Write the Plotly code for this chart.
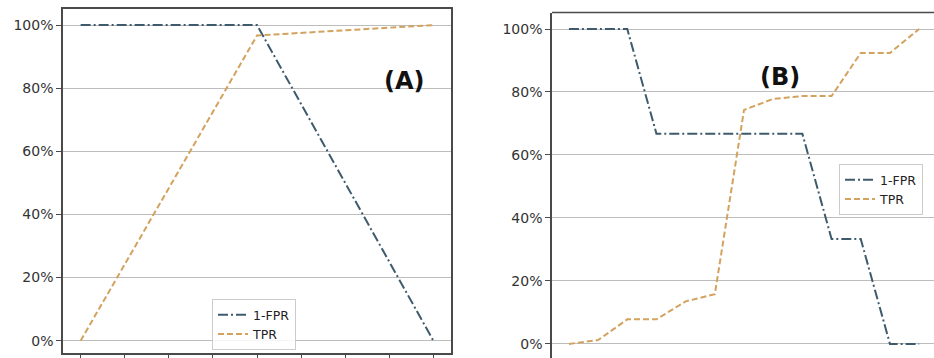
import plotly.graph_objects as go

# ---- data ----
a_x = [0, 4, 8]
a_one_minus_fpr = [100, 100, 0]
a_tpr = [0, 96.7, 100]

b_x = list(range(13))
b_one_minus_fpr = [100, 100, 100, 66.7, 66.7, 66.7, 66.7, 66.7, 66.7, 33.3, 33.3, 0, 0]
b_tpr = [0, 1.2, 7.8, 7.8, 13.5, 15.8, 74.3, 77.8, 78.7, 78.7, 92.4, 92.4, 100]

y_ticks = [0, 20, 40, 60, 80, 100]
y_tick_labels = ["0%", "20%", "40%", "60%", "80%", "100%"]
a_x_ticks = list(range(9))
series_names = ["1-FPR", "TPR"]
panel_labels = ["(A)", "(B)"]

W, H = 934, 358
C_FPR = "#3e5b6d"
C_TPR = "#d3a25e"
DASH_FPR = "10px,3px,2px,3px"
DASH_TPR = "6px,3px"
FONT = "DejaVu Sans"

fig = go.Figure()
fig.add_trace(go.Scatter(x=a_x, y=a_one_minus_fpr, mode="lines", name=series_names[0],
                         line=dict(color=C_FPR, width=2, dash=DASH_FPR),
                         xaxis="x", yaxis="y", legend="legend"))
fig.add_trace(go.Scatter(x=a_x, y=a_tpr, mode="lines", name=series_names[1],
                         line=dict(color=C_TPR, width=2, dash=DASH_TPR),
                         xaxis="x", yaxis="y", legend="legend"))
fig.add_trace(go.Scatter(x=b_x, y=b_one_minus_fpr, mode="lines", name=series_names[0],
                         line=dict(color=C_FPR, width=2, dash=DASH_FPR),
                         xaxis="x2", yaxis="y2", legend="legend2"))
fig.add_trace(go.Scatter(x=b_x, y=b_tpr, mode="lines", name=series_names[1],
                         line=dict(color=C_TPR, width=2, dash=DASH_TPR),
                         xaxis="x2", yaxis="y2", legend="legend2"))

axis_line = "#4a4a4a"
grid = "#bdbdbd"
tickfont = dict(family=FONT, size=14, color="#333333")
legfont = dict(family=FONT, size=12.5, color="#222222")

fig.update_layout(
    width=W, height=H,
    margin=dict(l=0, r=0, t=0, b=0),
    paper_bgcolor="white", plot_bgcolor="white",
    xaxis=dict(domain=[63 / W, 451 / W], range=[-0.4, 8.4],
               showline=True, mirror=True, linecolor=axis_line, linewidth=1.5,
               showgrid=False, zeroline=False, tickmode="array", tickvals=a_x_ticks,
               ticks="outside", ticklen=5, tickcolor=axis_line, showticklabels=False),
    yaxis=dict(domain=[(H - 353) / H, (H - 9.3) / H], range=[-3.9, 105],
               showline=True, mirror=True, linecolor=axis_line, linewidth=1.5,
               showgrid=True, gridcolor=grid, gridwidth=1, zeroline=False,
               tickmode="array", tickvals=y_ticks, ticktext=y_tick_labels,
               ticks="outside", ticklen=5, tickcolor=axis_line, tickfont=tickfont),
    xaxis2=dict(domain=[552 / W, 1], range=[-0.58, 12.51], anchor="y2",
                showline=False, showgrid=False, zeroline=False, showticklabels=False,
                ticks=""),
    yaxis2=dict(domain=[0, (H - 12.5) / H], range=[-4.48, 105.24], anchor="x2",
                showline=True, mirror=False, linecolor=axis_line, linewidth=1.5,
                showgrid=True, gridcolor=grid, gridwidth=1, zeroline=False,
                tickmode="array", tickvals=y_ticks, ticktext=y_tick_labels,
                ticks="outside", ticklen=5, tickcolor=axis_line, tickfont=tickfont),
    legend=dict(x=212 / W, y=1 - 350 / H, xanchor="left", yanchor="bottom",
                bgcolor="rgba(255,255,255,0.85)", bordercolor="#cccccc", borderwidth=1,
                font=legfont, tracegroupgap=0),
    legend2=dict(x=839 / W, y=1 - 164 / H, xanchor="left", yanchor="top",
                 bgcolor="rgba(255,255,255,0.85)", bordercolor="#cccccc", borderwidth=1,
                 font=legfont, tracegroupgap=0),
    shapes=[dict(type="line", xref="x2 domain", yref="y2 domain", x0=0, x1=1, y0=1, y1=1,
                 line=dict(color=axis_line, width=1.5))],
    annotations=[
        dict(text="<b>" + panel_labels[0] + "</b>", x=404 / W, y=1 - 65 / H,
             xref="paper", yref="paper", showarrow=False,
             font=dict(family=FONT, size=24, color="#111111")),
        dict(text="<b>" + panel_labels[1] + "</b>", x=802 / W, y=1 - 61 / H,
             xref="paper", yref="paper", showarrow=False,
             font=dict(family=FONT, size=24, color="#111111")),
    ],
)

fig.write_html("out.html", config={"displayModeBar": False},
               post_script="document.body.style.margin='0';")
